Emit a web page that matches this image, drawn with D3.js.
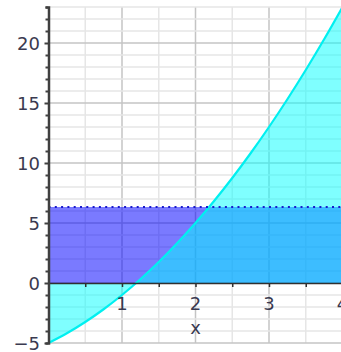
<!DOCTYPE html>
<html><head><meta charset="utf-8">
<script src="https://cdn.jsdelivr.net/npm/d3@7"></script>
<style>body{margin:0;background:#fff}svg{display:block}</style>
</head><body>
<svg id="c" width="341" height="352"></svg>
<script>
// Data: f(x) = x^2 + 3x - 5 sampled on [0,4]; mean value over interval
const curveX = [0,0.25,0.5,0.75,1,1.25,1.5,1.75,2,2.25,2.5,2.75,3,3.25,3.5,3.75,4];
const curveY = [-5,-4.1875,-3.25,-2.1875,-1,0.3125,1.75,3.3125,5,6.8125,8.75,10.8125,13,15.3125,17.75,20.3125,23];
const meanValue = 19/3;
const xTicks = [1,2,3,4];
const yTicks = [-5,0,5,10,15,20];

const svg = d3.select("#c");
const x = d3.scaleLinear().domain([0,4]).range([48.5,342.5]);
const y = d3.scaleLinear().domain([-5,23]).range([343,7]);

// grid
const g = svg.append("g");
g.selectAll(".vx").data(d3.range(0.5,4.01,0.5)).enter().append("line")
 .attr("x1",d=>x(d)).attr("x2",d=>x(d)).attr("y1",y(23)).attr("y2",y(-5))
 .attr("stroke",d=>Number.isInteger(d)?"#c4c4c4":"#e6e6e6").attr("stroke-width",1.5);
g.selectAll(".hy").data(d3.range(-5,24,1)).enter().append("line")
 .attr("x1",x(0)).attr("x2",341).attr("y1",d=>y(d)).attr("y2",d=>y(d))
 .attr("stroke",d=>d%5===0?"#c4c4c4":"#e6e6e6").attr("stroke-width",1.5);

// mean rectangle
svg.append("rect").attr("x",x(0)).attr("y",y(meanValue)).attr("width",x(4)-x(0))
 .attr("height",y(0)-y(meanValue)).attr("fill","#0000ff").attr("fill-opacity",0.52);

const pts = curveX.map((d,i)=>[d,curveY[i]]);
const area = d3.area().x(d=>x(d[0])).y0(y(0)).y1(d=>y(d[1])).curve(d3.curveMonotoneX);
svg.append("path").datum(pts).attr("d",area).attr("fill","#00ffff").attr("fill-opacity",0.5);
const line = d3.line().x(d=>x(d[0])).y(d=>y(d[1])).curve(d3.curveMonotoneX);
svg.append("path").datum(pts).attr("d",line).attr("fill","none").attr("stroke","#00f0f0").attr("stroke-width",2.2);

// dotted mean line
svg.append("line").attr("x1",x(0)).attr("x2",x(4)).attr("y1",y(meanValue)).attr("y2",y(meanValue))
 .attr("stroke","#1a1acc").attr("stroke-width",2).attr("stroke-dasharray","2,4.3");

// axes
const ax = svg.append("g").attr("transform",`translate(0,${y(0)})`)
 .call(d3.axisBottom(x).tickValues(d3.range(0.5,4.01,0.5)).tickSize(4).tickFormat(""));
ax.select(".domain").attr("stroke","#303030").attr("stroke-width",1.5);
ax.selectAll(".tick line").attr("stroke","#303030").attr("stroke-width",1.5);
const ay = svg.append("g").attr("transform",`translate(${x(0)},0)`)
 .call(d3.axisLeft(y).tickValues(d3.range(-5,24,1)).tickSize(3).tickFormat(""));
ay.select(".domain").attr("stroke","#404040").attr("stroke-width",2.5);
ay.selectAll(".tick line").attr("stroke","#404040").attr("stroke-width",2).attr("x2",d=>d%5===0?-4:-3);

const font = "'DejaVu Sans', Verdana, sans-serif";
svg.selectAll(".xl").data(xTicks).enter().append("text")
 .attr("x",d=>x(d)).attr("y",310).attr("text-anchor","middle")
 .attr("font-family",font).attr("font-size",18).attr("fill","#3a3a50").text(d=>d);
svg.selectAll(".yl").data(yTicks).enter().append("text")
 .attr("x",40).attr("y",d=>y(d)+6.5).attr("text-anchor","end")
 .attr("font-family",font).attr("font-size",18).attr("fill","#3a3a50").text(d=>d<0?"\u2212"+Math.abs(d):d);
svg.append("text").attr("x",x(2)).attr("y",334).attr("text-anchor","middle")
 .attr("font-family",font).attr("font-size",18).attr("fill","#3a3a50").text("x");
</script>
</body></html>
